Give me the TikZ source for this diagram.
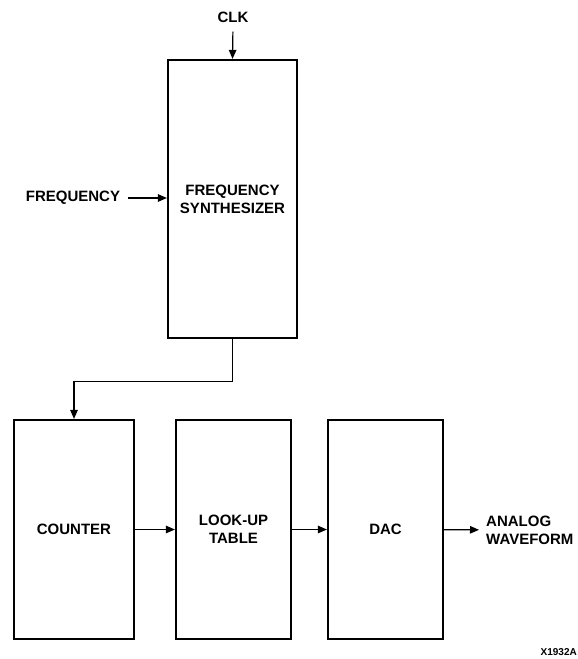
\documentclass[tikz,border=0pt]{standalone}
\usepackage{fontspec}
\setmainfont{Liberation Sans}
\usetikzlibrary{arrows.meta,positioning}

\begin{document}
\begin{tikzpicture}[x=1pt,y=-1pt,font=\bfseries\fontsize{15}{18}\selectfont,
 >={Triangle[length=9pt,width=7.5pt]},
 blk/.style={draw,line width=2.2pt,align=center,minimum height=219pt},
 txt/.style={align=center,inner sep=3pt},
 sig/.style={->,line width=1.2pt}]
\useasboundingbox (0,0) rectangle (578,659);
% synthesizer block and its inputs
\node[blk,minimum width=129pt,minimum height=278pt] (syn) at (232.5,199) {FREQUENCY\\SYNTHESIZER};
\node[txt] (clk) at (233,17) {CLK};
\node[txt] (freq) at (73,198) {FREQUENCY};
\draw[sig,shorten <=6pt] (clk.south) -- (syn.north);
\draw[sig,shorten <=5pt] (freq.east) -- (freq.east -| syn.west);
% bottom row
\node[blk,minimum width=120pt] (cnt) at (74,529.5) {COUNTER};
\node[blk,minimum width=115pt] (lut) at (233.5,529.5) {LOOK-UP\\TABLE};
\node[blk,minimum width=115pt] (dac) at (385.5,529.5) {DAC};
\node[txt,align=left,anchor=west] (out) at (483,530) {ANALOG\\WAVEFORM};
\draw[sig] (syn.south) -- ++(0,42) -| (cnt.north);
\draw[sig] (cnt) -- (lut);
\draw[sig] (lut) -- (dac);
\draw[sig,shorten >=4pt] (dac) -- (out);
\node[anchor=east,inner sep=0pt,font=\bfseries\fontsize{10}{12}\selectfont] (fig) at (577,652) {X1932A};
\end{tikzpicture}
\end{document}
